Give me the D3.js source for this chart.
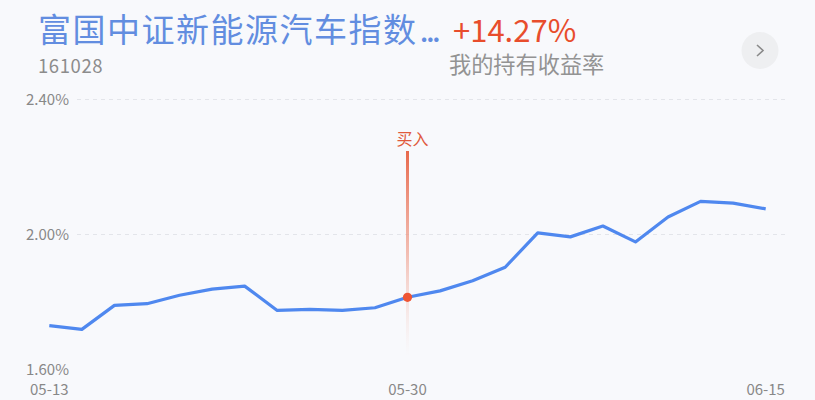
<!DOCTYPE html>
<html>
<head>
<meta charset="utf-8">
<script src="https://cdn.jsdelivr.net/npm/d3@7"></script>
<style>
  html, body { margin: 0; padding: 0; background: #f8f9fc; }
  svg { display: block; font-family: "Noto Sans CJK SC", "Noto Sans", sans-serif; }
</style>
</head>
<body>
<svg id="chart"></svg>
<script>
const WIDTH = 815;
const HEIGHT = 400;

const FUND_NAME = "富国中证新能源汽车指数...";
const FUND_CODE = "161028";
const RETURN_TEXT = "+14.27%";
const RETURN_LABEL = "我的持有收益率";
const BUY_LABEL = "买入";

const dates = [
    "05-13", "05-16", "05-17", "05-18", "05-19", "05-20",
    "05-23", "05-24", "05-25", "05-26", "05-27", "05-30",
    "05-31", "06-01", "06-02", "06-06", "06-07", "06-08",
    "06-09", "06-10", "06-13", "06-14", "06-15"
];
const values = [
    1.730, 1.719, 1.790, 1.795, 1.820, 1.838,
    1.847, 1.775, 1.778, 1.775, 1.783, 1.814,
    1.833, 1.863, 1.903, 2.005, 1.993, 2.025,
    1.978, 2.052, 2.098, 2.093, 2.076
];
const yTicks = [1.6, 2.0, 2.4];
const xTickLabels = ["05-13", "05-30", "06-15"];
const buyDate = "05-30";

const svg = d3.select("#chart")
    .attr("width", WIDTH)
    .attr("height", HEIGHT);

// header - name body and the trailing dots get different spacing
const title = svg.append("text")
    .attr("x", 38).attr("y", 42)
    .attr("font-size", 33)
    .attr("fill", "#628de0");
title.append("tspan")
    .attr("letter-spacing", 1.5)
    .text(FUND_NAME.slice(0, -3));
title.append("tspan")
    .attr("dx", 2)
    .attr("letter-spacing", -3)
    .text(FUND_NAME.slice(-3));

svg.append("text")
    .attr("x", 453).attr("y", 42)
    .attr("font-size", 31)
    .attr("fill", "#e84d2c")
    .text(RETURN_TEXT);
svg.append("text")
    .attr("x", 38).attr("y", 73)
    .attr("font-size", 18.5)
    .attr("letter-spacing", 0.6)
    .attr("fill", "#8c8c8c")
    .text(FUND_CODE);
svg.append("text")
    .attr("x", 449).attr("y", 73)
    .attr("font-size", 22.2)
    .attr("fill", "#939393")
    .text(RETURN_LABEL);

// round arrow button
svg.append("circle")
    .attr("cx", 760).attr("cy", 50.5).attr("r", 18.5)
    .attr("fill", "#eeeff1");
svg.append("path")
    .attr("d", "M757,45 L763,50.5 L757,56")
    .attr("fill", "none")
    .attr("stroke", "#8a8a8a")
    .attr("stroke-width", 1.6);

// scales
const xScale = d3.scalePoint()
    .domain(dates)
    .range([49.3, 765.7]);
const yScale = d3.scaleLinear()
    .domain([1.6, 2.4])
    .range([369.5, 99.5]);

// grid
svg.append("g")
    .selectAll("line")
    .data(yTicks.filter(d => d > 1.6))
    .join("line")
    .attr("x1", 77).attr("x2", 787)
    .attr("y1", d => yScale(d)).attr("y2", d => yScale(d))
    .attr("stroke", "#e3e5ea")
    .attr("stroke-width", 1)
    .attr("stroke-dasharray", "4,4");

// y labels
svg.append("g")
    .selectAll("text")
    .data(yTicks)
    .join("text")
    .attr("x", 26)
    .attr("y", d => yScale(d))
    .attr("dy", "0.35em")
    .attr("font-size", 15)
    .attr("fill", "#888")
    .text(d => d3.format(".2f")(d) + "%");

// x labels
svg.append("g")
    .selectAll("text")
    .data(xTickLabels)
    .join("text")
    .attr("x", d => xScale(d))
    .attr("y", 395)
    .attr("text-anchor", "middle")
    .attr("font-size", 15)
    .attr("fill", "#888")
    .text(d => d);

// buy marker line with fade
const defs = svg.append("defs");
const grad = defs.append("linearGradient")
    .attr("id", "buyGrad")
    .attr("x1", 0).attr("y1", 0).attr("x2", 0).attr("y2", 1);
grad.append("stop").attr("offset", "0%").attr("stop-color", "#e8694c").attr("stop-opacity", 1);
grad.append("stop").attr("offset", "50%").attr("stop-color", "#f0a493").attr("stop-opacity", 0.7);
grad.append("stop").attr("offset", "100%").attr("stop-color", "#f6d6cf").attr("stop-opacity", 0);

const bx = xScale(buyDate);
svg.append("rect")
    .attr("x", bx - 1.5).attr("y", 151)
    .attr("width", 3).attr("height", 205)
    .attr("fill", "url(#buyGrad)");
svg.append("text")
    .attr("x", bx + 5).attr("y", 145)
    .attr("text-anchor", "middle")
    .attr("font-size", 16)
    .attr("fill", "#e05a3c")
    .text(BUY_LABEL);

// line
const data = dates.map((d, i) => ({ date: d, value: values[i] }));
const line = d3.line()
    .x(d => xScale(d.date))
    .y(d => yScale(d.value));
svg.append("path")
    .datum(data)
    .attr("d", line)
    .attr("fill", "none")
    .attr("stroke", "#4f88ef")
    .attr("stroke-width", 3.2)
    .attr("stroke-linejoin", "round");

// buy point
const buyIdx = dates.indexOf(buyDate);
svg.append("circle")
    .attr("cx", bx)
    .attr("cy", yScale(values[buyIdx]))
    .attr("r", 4.6)
    .attr("fill", "#ef5534");
</script>
</body>
</html>
